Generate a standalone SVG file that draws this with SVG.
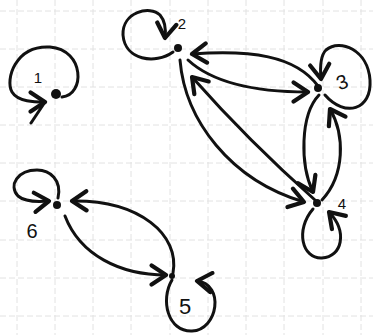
<svg xmlns="http://www.w3.org/2000/svg" width="373" height="335" viewBox="0 0 373 335">
<style>
.grid{stroke:#e2e2e2;stroke-width:1;stroke-dasharray:6 3}
.e{fill:none;stroke:#111;stroke-width:3;stroke-linecap:round;stroke-linejoin:round;marker-end:url(#ah)}
.dot{fill:#111}
.lbl{font-family:"Liberation Sans","DejaVu Sans",sans-serif;fill:#111;text-anchor:middle;dominant-baseline:central}
</style>
<defs>
<marker id="ah" markerUnits="userSpaceOnUse" markerWidth="24" markerHeight="24" viewBox="-14 -10 16 20" refX="0" refY="0" orient="auto">
<path d="M-12,-8 L0,0 L-12,8" fill="none" stroke="#111" stroke-width="3.5" stroke-linecap="round" stroke-linejoin="round"/>
</marker>
</defs>
<rect width="373" height="335" fill="#fff"/>
<g id="grid">
<path class="grid" d="M17,0V335M55,0V335M93,0V335M131,0V335M170,0V335M208,0V335M246,0V335M284,0V335M323,0V335M361,0V335M0,11H373M0,49H373M0,87H373M0,125H373M0,163H373M0,201H373M0,240H373M0,278H373M0,316H373"/>
</g>
<g id="connectors">
<path class="e" d="M188,60 C215,85 260,92 308,92"/>
<path class="e" d="M318,86 C295,55 250,50 192,54"/>
<path class="e" d="M315,200 C270,160 230,120 192,77"/>
<path class="e" d="M180,60 C185,120 230,180 304,202"/>
<path class="e" d="M319,95 C300,115 300,165 313,192"/>
<path class="e" d="M322,200 C345,175 345,135 330,109"/>
<path class="e" d="M173,273 C180,235 140,200 72,201"/>
<path class="e" d="M65,216 C80,255 120,275 166,275"/>
</g>
<g id="node1">
<circle class="dot" cx="56" cy="94" r="5"/>
<path class="e" d="M62,97 C85,95 85,50 50,47 C15,45 5,80 12,92 C18,102 35,102 45,102"/>
<path d="M45,102 L31,123" fill="none" stroke="#111" stroke-width="3" stroke-linecap="round"/>
<text class="lbl" x="38" y="77" font-size="15">1</text>
</g>
<g id="node2">
<circle class="dot" cx="178" cy="48" r="4"/>
<path class="e" d="M173,52 C155,65 125,60 123,35 C122,12 150,5 160,15 C166,22 166,30 165,38"/>
<text class="lbl" x="182" y="23" font-size="15">2</text>
</g>
<g id="node3">
<circle class="dot" cx="318" cy="88" r="4"/>
<path class="e" d="M325,95 C345,118 372,110 370,80 C368,50 340,38 326,50 C320,56 320,68 321,79"/>
<text class="lbl" x="342" y="82" font-size="20" transform="rotate(-20 342 82)">3</text>
</g>
<g id="node4">
<circle class="dot" cx="317" cy="203" r="4"/>
<path class="e" d="M313,209 C295,230 302,259 322,258 C342,257 348,232 329,212"/>
<text class="lbl" x="342" y="203" font-size="15">4</text>
</g>
<g id="node5">
<circle class="dot" cx="172" cy="276" r="3"/>
<path class="e" d="M172,280 C160,300 168,332 192,331 C218,330 225,284 197,281"/>
<text class="lbl" x="185" y="306" font-size="22">5</text>
</g>
<g id="node6">
<circle class="dot" cx="57" cy="205" r="4"/>
<path class="e" d="M58,198 C62,180 50,170 37,170 C18,170 8,185 18,196 C25,202 38,202 49,201"/>
<text class="lbl" x="32" y="231" font-size="20">6</text>
</g>
</svg>
